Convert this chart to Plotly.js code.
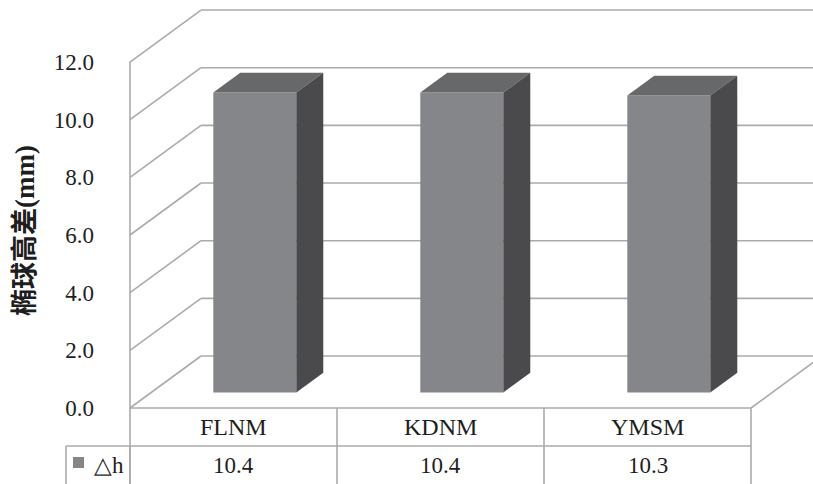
<!DOCTYPE html>
<html>
<head>
<meta charset="utf-8">
<script src="https://cdn.plot.ly/plotly-3.0.1.min.js"></script>
<style>
  html, body { margin: 0; padding: 0; background: #fff; }
  #chart { width: 813px; height: 484px; }
</style>
</head>
<body>
<div id="chart"></div>
<script>
// ---- data ----
const categories = ['FLNM', 'KDNM', 'YMSM'];
const deltaH = [10.4, 10.4, 10.3];
const seriesName = '△h';
const yTicks = [0, 2, 4, 6, 8, 10, 12];
const yTitle = '椭球高差(mm)';

// ---- geometry of the oblique 3D frame (axis units) ----
const W = 813, H = 484, ML = 110;
const X_RANGE = [-0.5 - 20 / 207, -0.5 + 683 / 207];
const Y_RANGE = [-76 / 28.83, 408 / 28.83];
const WALL_DX = 71 / 207;     // depth shift of the back wall along x
const WALL_DY = 52 / 28.83;   // depth shift of the back wall along y
const BAR_FRONT = 0.30;       // bar front face depth (fraction of wall depth)
const BAR_BACK = 0.68;        // bar back face depth
const BAR_W = 83 / 207;

const GRID = '#ababab';
const FRONT = '#85868a';
const TOP = '#67686a';
const SIDE = '#4a4a4c';
const TXT = '#1e1e1e';
const SERIF = 'Liberation Serif, serif';
const TITLE_FONT = 'Liberation Serif, Noto Sans CJK SC, serif';

const xLeft = -0.5, xRight = categories.length - 0.5;

// helpers to convert pixel positions of the table into paper coordinates
const plotW = W - ML;
const pxToPaperX = px => (px - ML) / plotW;
const pxToPaperY = py => (H - py) / H;

const shapes = [];
const line = (x0, y0, x1, y1, xref, yref, extra) => shapes.push(Object.assign({
  type: 'line', x0, y0, x1, y1, xref: xref || 'x', yref: yref || 'y',
  layer: 'below', line: { color: GRID, width: 1.6 }
}, extra || {}));

// side wall + back wall gridlines
yTicks.forEach(t => {
  line(xLeft, t, xLeft + WALL_DX, t + WALL_DY);
  line(xLeft + WALL_DX, t + WALL_DY, xRight + WALL_DX + 0.5, t + WALL_DY);
});
// front-left edge of the side wall, continuing as the table border
line(xLeft, yTicks[yTicks.length - 1], xLeft, Y_RANGE[0] - 1);
// floor front edge (table top) and right floor edge
line(xLeft, 0, xRight, 0);
line(xRight, 0, xRight + WALL_DX, WALL_DY);

// data table grid
const rowSplitPx = 446;
const rowSplit = (408 - rowSplitPx) / 28.83;
categories.forEach((c, i) => line(i + 0.5, 0, i + 0.5, Y_RANGE[0] - 1));
line(xRight, rowSplit, xLeft, rowSplit);
line(pxToPaperX(66), pxToPaperY(rowSplitPx), pxToPaperX(131), pxToPaperY(rowSplitPx), 'paper', 'paper', { layer: 'above' });
line(pxToPaperX(66), pxToPaperY(rowSplitPx), pxToPaperX(66), -0.05, 'paper', 'paper', { layer: 'above' });
line(pxToPaperX(130), pxToPaperY(rowSplitPx), pxToPaperX(130), -0.05, 'paper', 'paper', { layer: 'above' });
// legend key in the table
shapes.push({
  type: 'rect', xref: 'paper', yref: 'paper', layer: 'above',
  x0: pxToPaperX(73), x1: pxToPaperX(84), y0: pxToPaperY(468), y1: pxToPaperY(457),
  fillcolor: FRONT, line: { width: 0 }
});

// ---- bars ----
const fdx = BAR_FRONT * WALL_DX, fdy = BAR_FRONT * WALL_DY;
const ddx = (BAR_BACK - BAR_FRONT) * WALL_DX, ddy = (BAR_BACK - BAR_FRONT) * WALL_DY;
const xs = categories.map((c, i) => i + fdx);

const traces = [{
  type: 'bar', x: xs, y: deltaH, base: deltaH.map(() => fdy), width: BAR_W,
  marker: { color: FRONT, line: { width: 0 } }, name: seriesName,
  hoverinfo: 'skip', showlegend: false
}];

deltaH.forEach((v, i) => {
  const x0 = xs[i] - BAR_W / 2, x1 = xs[i] + BAR_W / 2;
  const yb = fdy, yt = fdy + v;
  traces.push({
    type: 'scatter', mode: 'lines', fill: 'toself', fillcolor: TOP,
    x: [x0, x1, x1 + ddx, x0 + ddx, x0],
    y: [yt, yt, yt + ddy, yt + ddy, yt],
    line: { width: 0, color: TOP }, hoverinfo: 'skip', showlegend: false
  });
  traces.push({
    type: 'scatter', mode: 'lines', fill: 'toself', fillcolor: SIDE,
    x: [x1, x1, x1 + ddx, x1 + ddx, x1],
    y: [yb, yt, yt + ddy, yb + ddy, yb],
    line: { width: 0, color: SIDE }, hoverinfo: 'skip', showlegend: false
  });
});

// ---- table text ----
const annotations = [];
const catY = (408 - 427) / 28.83;
const valY = (408 - 465) / 28.83;
categories.forEach((c, i) => {
  annotations.push({ x: i, y: catY, xref: 'x', yref: 'y', text: c, showarrow: false,
    xanchor: 'center', yanchor: 'middle', font: { family: SERIF, size: 24, color: TXT } });
  annotations.push({ x: i, y: valY, xref: 'x', yref: 'y', text: deltaH[i].toFixed(1), showarrow: false,
    xanchor: 'center', yanchor: 'middle', font: { family: SERIF, size: 23, color: TXT } });
});
annotations.push({ x: pxToPaperX(126), y: valY, xref: 'paper', yref: 'y', xanchor: 'right',
  yanchor: 'middle', text: seriesName, showarrow: false,
  font: { family: SERIF, size: 23, color: TXT } });
// axis title
annotations.push({ x: pxToPaperX(25), y: pxToPaperY(231), xref: 'paper', yref: 'paper',
  xanchor: 'center', yanchor: 'middle',
  text: '<b>' + yTitle + '</b>', textangle: -90, showarrow: false,
  font: { family: TITLE_FONT, size: 27, color: TXT } });

const layout = {
  width: W, height: H,
  margin: { l: ML, r: 0, t: 0, b: 0, pad: 0 },
  paper_bgcolor: '#fff', plot_bgcolor: 'rgba(0,0,0,0)',
  showlegend: false,
  xaxis: { range: X_RANGE, showgrid: false, zeroline: false, showline: false,
    showticklabels: false, ticks: '', fixedrange: true },
  yaxis: { range: Y_RANGE, showgrid: false, zeroline: false, showline: false,
    tickmode: 'array', tickvals: yTicks, ticktext: yTicks.map(t => t.toFixed(1)),
    ticks: '', ticklabelstandoff: 15,
    tickfont: { family: SERIF, size: 23, color: TXT }, fixedrange: true },
  shapes, annotations
};

Plotly.newPlot('chart', traces, layout, { staticPlot: true, displayModeBar: false });
</script>
</body>
</html>
